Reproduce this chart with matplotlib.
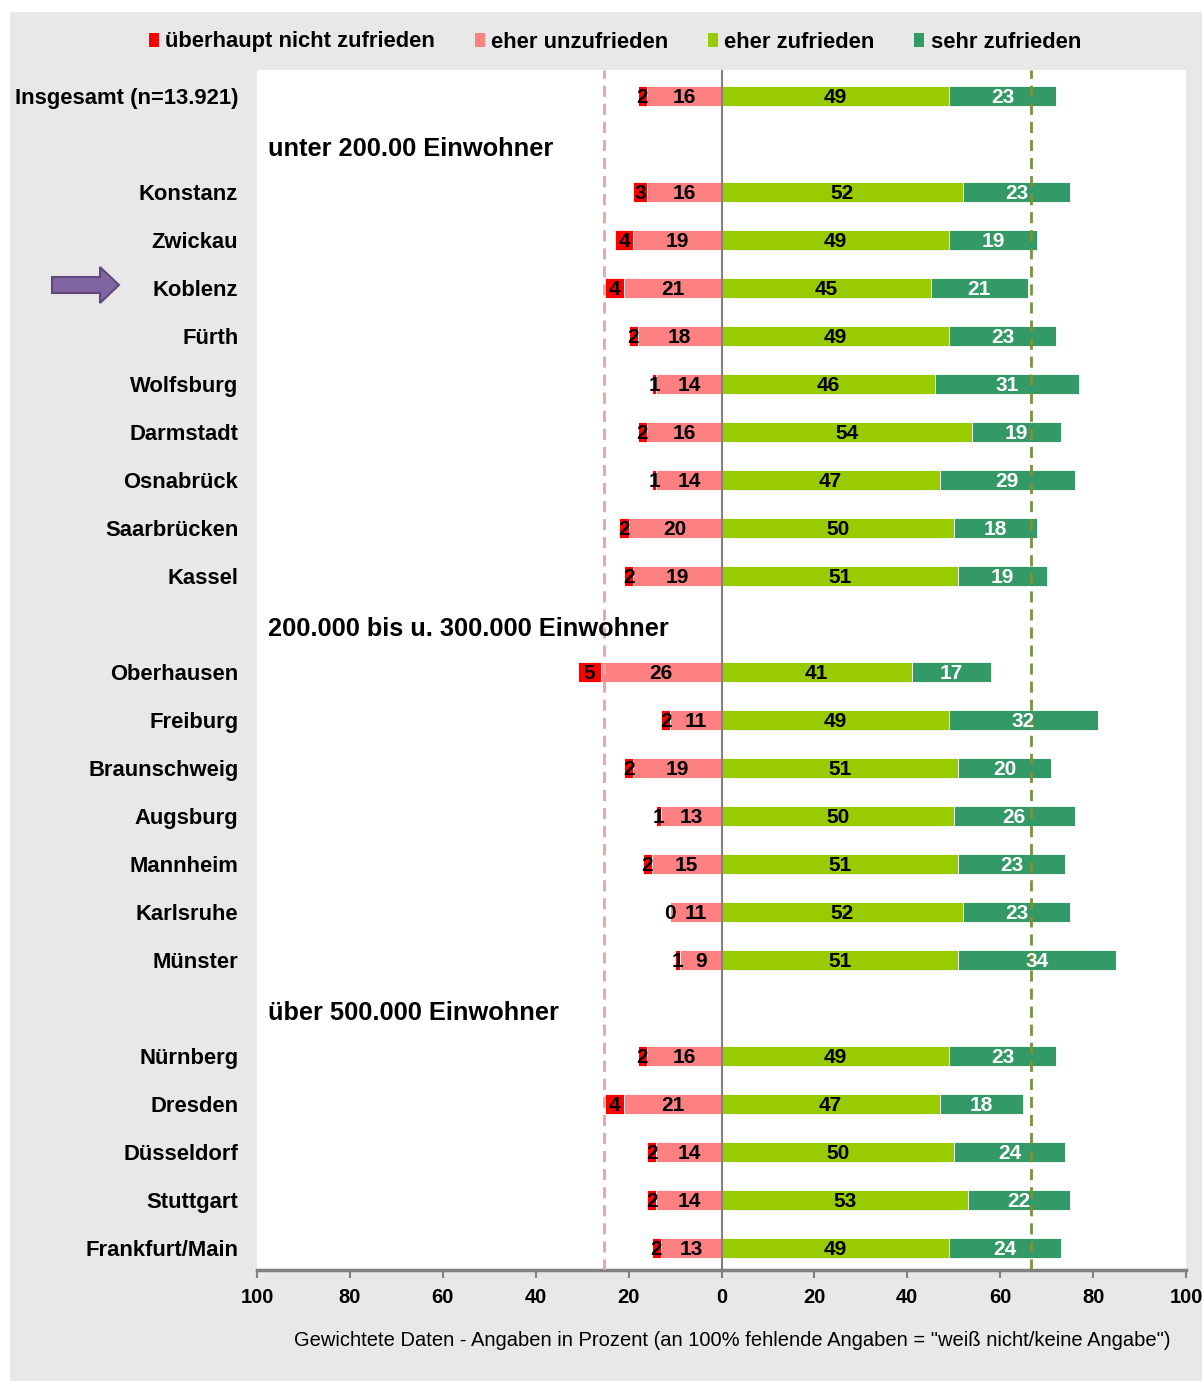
import matplotlib
matplotlib.use('Agg')
import matplotlib.pyplot as plt
from matplotlib.patches import Rectangle, Polygon, Patch
import numpy as np

plt.rcParams['font.family'] = ['Liberation Sans', 'DejaVu Sans']

# Zufriedenheit nach Stadt, Anteile in Prozent
staedte = ['Insgesamt (n=13.921)',
           'Konstanz', 'Zwickau', 'Koblenz', 'Fürth', 'Wolfsburg', 'Darmstadt',
           'Osnabrück', 'Saarbrücken', 'Kassel',
           'Oberhausen', 'Freiburg', 'Braunschweig', 'Augsburg', 'Mannheim',
           'Karlsruhe', 'Münster',
           'Nürnberg', 'Dresden', 'Düsseldorf', 'Stuttgart', 'Frankfurt/Main']
gruppen = ['unter 200.00 Einwohner', '200.000 bis u. 300.000 Einwohner',
           'über 500.000 Einwohner']
gruppen_groesse = [9, 7, 5]

gar_nicht = [2, 3, 4, 4, 2, 1, 2, 1, 2, 2, 5, 2, 2, 1, 2, 0, 1, 2, 4, 2, 2, 2]
eher_un = [16, 16, 19, 21, 18, 14, 16, 14, 20, 19, 26, 11, 19, 13, 15, 11, 9,
           16, 21, 14, 14, 13]
eher_zu = [49, 52, 49, 45, 49, 46, 54, 47, 50, 51, 41, 49, 51, 50, 51, 52, 51,
           49, 47, 50, 53, 49]
sehr = [23, 23, 19, 21, 23, 31, 19, 29, 18, 19, 17, 32, 20, 26, 23, 23, 34,
        23, 18, 24, 22, 24]

kategorien = ['überhaupt nicht zufrieden', 'eher unzufrieden',
              'eher zufrieden', 'sehr zufrieden']
farben = ['#ff0000', '#ff8080', '#99cc00', '#339966']

schnitt_neg = -25.3   # Referenzlinie unzufrieden
schnitt_pos = 66.6    # Referenzlinie zufrieden

# Zeilenpositionen: vor jeder Gruppe eine Zeile fuer die Ueberschrift
ypos, kopf_y = [0], []
y = 1
for n in gruppen_groesse:
    kopf_y.append(y)
    ypos += list(range(y + 1, y + 1 + n))
    y += n + 1
ypos = np.array(ypos)

W, H = 1202, 1381
fig = plt.figure(figsize=(W / 100, H / 100), dpi=100)
fig.patches.append(Rectangle((10 / W, 0), 1 - 10 / W, 1 - 12 / H,
                             transform=fig.transFigure, facecolor='#e8e8e8',
                             edgecolor='none', zorder=-10))

ax = fig.add_axes([257 / W, 1 - 1270 / H, (1186 - 257) / W, (1270 - 70) / H])
ax.set_facecolor('white')

gn = np.array(gar_nicht)
eu = np.array(eher_un)
ez = np.array(eher_zu)
sz = np.array(sehr)
h = 0.4
kw = dict(height=h, edgecolor='white', linewidth=0.6, zorder=3)
ax.barh(ypos, -eu, color=farben[1], **kw)
ax.barh(ypos, -gn, left=-eu, color=farben[0], **kw)
ax.barh(ypos, ez, color=farben[2], **kw)
ax.barh(ypos, sz, left=ez, color=farben[3], **kw)

tk = dict(ha='center', va='center_baseline', fontsize=15, fontweight='bold',
          zorder=6)
for i, yy in enumerate(ypos):
    ax.text(-eu[i] - gn[i] / 2, yy, str(gn[i]), color='black', **tk)
    ax.text(-eu[i] / 2, yy, str(eu[i]), color='black', **tk)
    ax.text(ez[i] / 2, yy, str(ez[i]), color='black', **tk)
    ax.text(ez[i] + sz[i] / 2, yy, str(sz[i]), color='white', **tk)

for titel, yy in zip(gruppen, kopf_y):
    ax.text(-97.6, yy + 0.05, titel, ha='left', va='center_baseline',
            fontsize=18.3, fontweight='bold', zorder=6)

ax.axvline(0, color='#808080', lw=1.5, zorder=4)
ax.axvline(schnitt_neg, color='#e6a3a3', lw=2, ls=(0, (4, 2.5)), zorder=5)
ax.axvline(schnitt_pos, color='#77933c', lw=2, ls=(0, (4, 2.5)), zorder=5)

ax.set_xlim(-100, 100)
ax.set_ylim(24.46, -0.54)
xt = np.arange(-100, 101, 20)
ax.set_xticks(xt)
ax.set_xticklabels([str(abs(v)) for v in xt], fontsize=14.5, fontweight='bold')
ax.tick_params(axis='x', direction='out', length=6, width=1.5,
               color='#808080', pad=7)
ax.set_yticks(ypos)
ax.set_yticklabels(staedte, fontsize=15.8, fontweight='bold')
ax.tick_params(axis='y', left=False, length=0, pad=13.5)
for s in ['top', 'right', 'left']:
    ax.spines[s].set_visible(False)
ax.spines['bottom'].set_color('#808080')
ax.spines['bottom'].set_linewidth(2.5)

fig.text(732 / W, 1 - 1340 / H,
         'Gewichtete Daten - Angaben in Prozent (an 100% fehlende Angaben = '
         '"weiß nicht/keine Angabe")',
         ha='center', va='center', fontsize=14.5)

# Legende oben
handles = [Patch(facecolor=c, edgecolor='none') for c in farben]
fig.legend(handles, kategorien, ncol=4, loc='center',
           bbox_to_anchor=(615 / W, 1 - 42 / H), frameon=False,
           handlelength=0.45, handleheight=0.6, handletextpad=0.3,
           columnspacing=1.8, prop=dict(size=15.8, weight='bold'))

# Pfeil auf Koblenz
pfeil = [(52, 277), (100, 277), (100, 267), (119, 285), (100, 303),
         (100, 293), (52, 293)]
fig.patches.append(Polygon([(x / W, 1 - y / H) for x, y in pfeil],
                           closed=True, transform=fig.transFigure,
                           facecolor='#8064a2', edgecolor='#5f497a',
                           linewidth=1.5, zorder=5))

fig.savefig('out.png', dpi=100, facecolor='white')
